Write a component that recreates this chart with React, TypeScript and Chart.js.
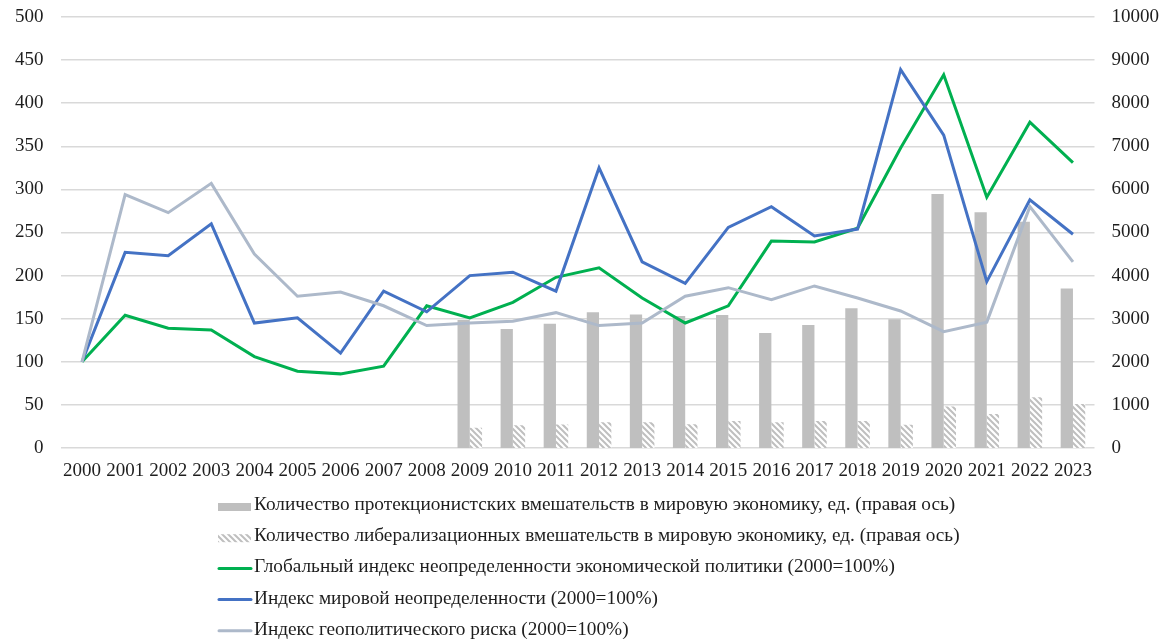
import React, { useEffect, useRef } from 'react';
import { Chart, registerables } from 'chart.js';

Chart.register(...registerables);

const years = [
  '2000', '2001', '2002', '2003', '2004', '2005', '2006', '2007', '2008', '2009', '2010', '2011',
  '2012', '2013', '2014', '2015', '2016', '2017', '2018', '2019', '2020', '2021', '2022', '2023',
];

const protectionist = [
  null, null, null, null, null, null, null, null, null,
  2970, 2760, 2880, 3150, 3095, 3060, 3085, 2670, 2855, 3245, 2985, 5895, 5470, 5250, 3700,
];

const liberalization = [
  null, null, null, null, null, null, null, null, null,
  470, 525, 545, 600, 600, 550, 625, 600, 625, 625, 540, 960, 790, 1180, 1020,
];

const globalEPU = [
  100, 154, 139, 137, 106, 89, 86, 95, 165, 151, 169, 198,
  209, 174, 145, 165, 240, 239, 255, 348, 433, 291, 378, 331,
];

const worldUncertainty = [
  100, 227, 223, 260, 145, 151, 110, 182, 158, 200, 204, 182,
  325, 216, 191, 256, 280, 246, 254, 439, 363, 193, 288, 248,
];

const geopoliticalRisk = [
  100, 294, 273, 307, 225, 176, 181, 165, 142, 145, 147, 157,
  142, 145, 176, 186, 172, 188, 174, 159, 135, 146, 280, 216,
];

const seriesLabels = [
  'Количество протекционистских вмешательств в мировую экономику, ед. (правая ось)',
  'Количество либерализационных вмешательств в мировую экономику, ед. (правая ось)',
  'Глобальный индекс неопределенности экономической политики (2000=100%)',
  'Индекс мировой неопределенности (2000=100%)',
  'Индекс геополитического риска (2000=100%)',
];

const FONT_FAMILY = "'Liberation Serif', 'Times New Roman', serif";
const TEXT_COLOR = '#1e1e1e';
const BAR_GRAY = '#bfbfbf';
const GREEN = '#00b050';
const BLUE = '#4472c4';
const GEO = '#adb9ca';
const GRID = '#d9d9d9';

function makeHatch(): CanvasPattern | string {
  const c = document.createElement('canvas');
  const s = 6;
  c.width = s;
  c.height = s;
  const g = c.getContext('2d');
  if (!g) return BAR_GRAY;
  g.fillStyle = '#ffffff';
  g.fillRect(0, 0, s, s);
  g.strokeStyle = BAR_GRAY;
  g.lineWidth = 2;
  g.beginPath();
  g.moveTo(-1, -1);
  g.lineTo(s + 1, s + 1);
  g.moveTo(-1, s - 1);
  g.lineTo(1, s + 1);
  g.moveTo(s - 1, -1);
  g.lineTo(s + 1, 1);
  g.stroke();
  const p = g.createPattern(c, 'repeat');
  return p || BAR_GRAY;
}

const legendPlugin = {
  id: 'verticalLegend',
  afterDraw(chart: any) {
    const ctx = chart.ctx as CanvasRenderingContext2D;
    const datasets = chart.data.datasets;
    const markerX = 218;
    const markerW = 33;
    const textX = 254;
    const firstY = 505;
    const step = 31.2;
    ctx.save();
    ctx.font = `19.3px ${FONT_FAMILY}`;
    ctx.textBaseline = 'middle';
    ctx.textAlign = 'left';
    datasets.forEach((ds: any, i: number) => {
      const y = firstY + i * step;
      if (ds.type === 'bar') {
        ctx.fillStyle = ds.backgroundColor;
        ctx.fillRect(markerX, y - 2, markerW, 8);
      } else {
        ctx.strokeStyle = ds.borderColor;
        ctx.lineWidth = 3;
        ctx.lineCap = 'round';
        ctx.beginPath();
        ctx.moveTo(markerX + 1, y + 1);
        ctx.lineTo(markerX + markerW, y + 1);
        ctx.stroke();
      }
      ctx.fillStyle = TEXT_COLOR;
      ctx.fillText(ds.label, textX, y);
    });
    ctx.restore();
  },
};

export default function App() {
  const ref = useRef<HTMLCanvasElement | null>(null);

  useEffect(() => {
    if (!ref.current) return;
    const hatch = makeHatch();
    const chart = new Chart(ref.current, {
      type: 'bar',
      data: {
        labels: years,
        datasets: [
          {
            type: 'bar',
            label: seriesLabels[0],
            data: protectionist,
            backgroundColor: BAR_GRAY,
            yAxisID: 'y1',
            order: 10,
            categoryPercentage: 0.57,
            barPercentage: 1,
          },
          {
            type: 'bar',
            label: seriesLabels[1],
            data: liberalization,
            backgroundColor: hatch as any,
            yAxisID: 'y1',
            order: 11,
            categoryPercentage: 0.57,
            barPercentage: 1,
          },
          {
            type: 'line',
            label: seriesLabels[2],
            data: globalEPU,
            borderColor: GREEN,
            backgroundColor: GREEN,
            borderWidth: 3,
            pointRadius: 0,
            tension: 0,
            yAxisID: 'y',
            order: 3,
          },
          {
            type: 'line',
            label: seriesLabels[3],
            data: worldUncertainty,
            borderColor: BLUE,
            backgroundColor: BLUE,
            borderWidth: 3,
            pointRadius: 0,
            tension: 0,
            yAxisID: 'y',
            order: 2,
          },
          {
            type: 'line',
            label: seriesLabels[4],
            data: geopoliticalRisk,
            borderColor: GEO,
            backgroundColor: GEO,
            borderWidth: 3,
            pointRadius: 0,
            tension: 0,
            yAxisID: 'y',
            order: 1,
          },
        ] as any,
      },
      options: {
        animation: false,
        responsive: true,
        maintainAspectRatio: false,
        layout: { padding: { top: 17, bottom: 151, left: 0, right: 0 } },
        plugins: {
          legend: { display: false },
          tooltip: { enabled: false },
          title: { display: false },
        },
        scales: {
          x: {
            offset: true,
            grid: { display: false, drawTicks: false },
            border: { display: false },
            ticks: {
              color: TEXT_COLOR,
              font: { family: FONT_FAMILY, size: 19 },
              padding: 12,
              maxRotation: 0,
              autoSkip: false,
            },
            afterFit: (s: any) => { s.height = 40; },
          },
          y: {
            position: 'left',
            min: 0,
            max: 500,
            grid: { color: GRID, lineWidth: 1.5, drawTicks: false },
            border: { display: false },
            ticks: {
              stepSize: 50,
              color: TEXT_COLOR,
              font: { family: FONT_FAMILY, size: 19 },
              padding: 17,
            },
            afterFit: (s: any) => {
              s.width = 60.5;
              s.paddingTop = 0;
              s.paddingBottom = 0;
            },
          },
          y1: {
            position: 'right',
            min: 0,
            max: 10000,
            grid: { display: false, drawTicks: false },
            border: { display: false },
            ticks: {
              stepSize: 1000,
              color: TEXT_COLOR,
              font: { family: FONT_FAMILY, size: 19 },
              padding: 17,
              callback: (v: any) => String(v),
            },
            afterFit: (s: any) => {
              s.width = 67.5;
              s.paddingTop = 0;
              s.paddingBottom = 0;
            },
          },
        },
      },
      plugins: [legendPlugin],
    });
    return () => chart.destroy();
  }, []);

  return (
    <div style={{ position: 'fixed', left: 0, top: 0, width: 1162, height: 639 }}>
      <canvas ref={ref} />
    </div>
  );
}
